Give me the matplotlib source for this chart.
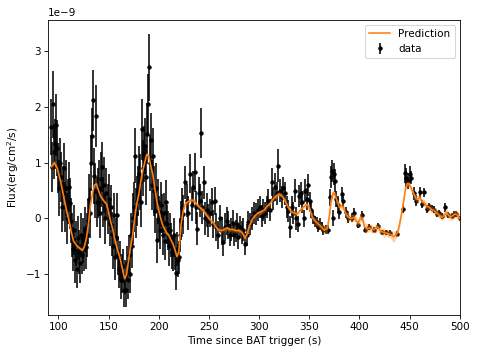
import matplotlib.pyplot as plt
import numpy as np

# light curve bins (s since BAT trigger), flux in units of 1e-9 erg/cm^2/s
time_s = [
    93, 94, 95, 96, 97, 98, 99, 100, 101, 102,
    103, 104, 105, 106, 107, 108, 109, 110, 111, 112,
    113, 114, 115, 116, 117, 118, 119, 120, 121, 122,
    123, 124, 125, 126, 127, 128, 129, 130, 131, 132,
    133, 134, 135, 136, 137, 138, 139, 140, 141, 142,
    143, 144, 145, 146, 147, 148, 149, 150, 151, 152,
    153, 154, 155, 156, 157, 158, 159, 160, 161, 162,
    163, 164, 165, 166, 167, 168, 169, 170, 171, 172,
    173, 174, 175, 176, 177, 178, 179, 180, 181, 182,
    183, 184, 185, 186, 187, 188, 189, 190, 191, 192,
    193, 194, 195, 196, 197, 198, 199, 200, 201, 202,
    203, 204, 205, 206, 207, 208, 209, 210, 211, 212,
    213, 214, 215, 216, 217, 218, 219, 220, 221, 222,
    223, 224,
    226.0, 228.0, 229.5, 231.0, 233.0, 234.5, 236.0, 237.5, 238.5, 240.0,
    241.0, 242.0, 243.5, 245.0, 246.5, 248.0, 249.5, 251.0, 252.8, 254.5,
    256.0, 257.5, 259.3, 261.0, 262.7, 264.3, 266.0, 267.6, 269.3, 271.0,
    272.5, 273.6, 275.5, 276.9, 278.3, 279.3, 281.0, 282.6, 284.3, 285.9,
    287.5, 289.3, 291.0, 292.6, 294.5, 296.9, 298.5, 300.9, 302.5, 304.0,
    305.9, 307.5, 309.2, 311.0, 312.5, 314.0, 315.8, 317.5, 319.1, 320.5,
    322.5, 324.0, 325.8, 327.5, 329.1, 331.0, 332.5, 334.0, 335.5, 337.0,
    338.5, 340.0, 341.5, 343.0, 344.5, 346.0, 347.5, 349.0, 350.7, 352.0,
    354.0, 355.5, 357.5, 359.0, 361.0, 362.5, 364.0, 366.5, 369.0, 370.6,
    372.0, 373.0, 373.9, 375.0, 376.0, 377.0, 378.5, 380.0, 382.3, 384.0,
    386.4, 389.0, 392.4, 394.7, 398.4, 402.4, 405.7, 410.0, 414.0, 418.0,
    422.4, 426.7, 430.0, 437.4, 443.0, 444.9, 446.6, 448.2, 449.9, 451.6,
    454.0, 456.6, 460.0, 462.4, 464.7, 467.4, 469.5, 472.0, 474.4, 477.0,
    479.5, 482.0, 485.4, 488.7, 492.0, 494.5, 496.4, 499.7,
]

flux = [
    1.64, 0.93, 2.05, 1.20, 1.33, 1.68, 1.27, 0.90, 0.55, 1.00,
    0.75, 0.20, 0.45, 0.90, 0.20, 0.55, 0.00, 0.30, 0.56, 0.27,
    -0.04, -0.30, -0.55, -0.20, -0.75, -0.45, -0.90, -0.35, -0.60, -0.80,
    -0.30, -0.65, -0.39, -0.55, -0.20, -0.51, -0.30, -0.05, 0.35, 0.10,
    1.00, 1.48, 2.12, 0.76, 0.50, 1.84, 0.30, 0.45, 0.55, 0.10,
    0.70, 0.92, 0.30, 0.60, 0.00, 0.45, 0.17, 0.35, -0.10, 0.20,
    -0.28, -0.50, 0.06, -0.70, -0.35, 0.06, -0.66, -0.90, -0.75, -1.10,
    -0.99, -0.85, -1.29, -1.05, -1.29, -0.80, -1.10, -0.65, -0.99, -0.30,
    -0.49, 0.00, 0.20, 1.13, 0.10, 0.32, 0.50, 0.80, 0.65, 0.30,
    1.60, 0.90, 1.16, 1.30, 0.75, 1.52, 2.05, 2.71, 1.00, 1.40,
    0.60, 1.13, 0.50, 0.14, 0.55, -0.39, 0.30, 0.00, -0.20, 0.25,
    0.09, -0.30, 0.10, -0.40, 0.29, -0.10, -0.21, -0.50, -0.20, -0.39,
    -0.60, -0.64, -0.30, -0.63, -0.98, -0.55, -0.75, -0.70, -0.30, -0.04,
    0.20, 0.08,
    0.65, 0.32, 0.10, 0.80, 0.25, 0.56, 0.83, 0.20, -0.18, 0.45,
    0.32, 1.54, 0.20, 0.65, 0.00, 0.15, -0.04, 0.10, 0.29, -0.10,
    0.32, -0.15, -0.29, 0.00, -0.23, -0.42, -0.15, -0.04, -0.12, -0.30,
    -0.20, -0.09, -0.30, -0.22, -0.10, -0.34, -0.15, -0.25, -0.20, -0.46,
    -0.30, -0.06, -0.10, 0.00, 0.10, 0.08, 0.15, 0.20, 0.05, 0.15,
    0.10, 0.20, 0.32, 0.15, 0.65, 0.35, 0.56, 0.45, 0.95, 0.50,
    0.38, 0.55, 0.45, 0.20, 0.13, -0.15, 0.20, 0.10, 0.50, 0.00,
    -0.10, 0.40, 0.45, 0.30, 0.00, 0.50, 0.35, 0.60, 0.32, 0.15,
    0.02, -0.05, -0.07, -0.15, -0.10, -0.15, -0.21, -0.20, -0.20, 0.38,
    0.75, 0.85, 0.01, 0.80, 0.68, 0.35, 0.25, 0.11, 0.44, 0.32,
    0.11, 0.00, 0.01, 0.10, -0.11, 0.06, -0.20, -0.15, -0.20, -0.14,
    -0.25, -0.25, -0.26, -0.27, 0.17, 0.81, 0.73, 0.67, 0.80, 0.73,
    0.45, 0.32, 0.47, 0.26, 0.47, 0.17, 0.22, 0.19, 0.16, 0.08,
    0.10, 0.04, 0.20, 0.06, 0.05, 0.08, 0.08, 0.00,
]

flux_err = [
    0.50, 0.45, 0.60, 0.50, 0.45, 0.55, 0.50, 0.45, 0.50, 0.45,
    0.45, 0.45, 0.50, 0.45, 0.45, 0.50, 0.45, 0.40, 0.45, 0.45,
    0.40, 0.40, 0.40, 0.45, 0.40, 0.40, 0.35, 0.40, 0.40, 0.35,
    0.40, 0.35, 0.40, 0.40, 0.40, 0.40, 0.40, 0.40, 0.45, 0.45,
    0.50, 0.50, 0.55, 0.50, 0.50, 0.55, 0.45, 0.45, 0.50, 0.45,
    0.50, 0.45, 0.45, 0.50, 0.45, 0.45, 0.45, 0.45, 0.40, 0.40,
    0.40, 0.40, 0.40, 0.40, 0.35, 0.40, 0.35, 0.35, 0.35, 0.35,
    0.35, 0.30, 0.30, 0.30, 0.30, 0.30, 0.35, 0.35, 0.35, 0.40,
    0.40, 0.45, 0.45, 0.50, 0.45, 0.45, 0.45, 0.50, 0.50, 0.45,
    0.55, 0.50, 0.50, 0.50, 0.50, 0.55, 0.55, 0.60, 0.50, 0.50,
    0.45, 0.50, 0.45, 0.40, 0.45, 0.40, 0.40, 0.40, 0.35, 0.40,
    0.35, 0.35, 0.35, 0.35, 0.40, 0.35, 0.35, 0.35, 0.30, 0.30,
    0.30, 0.30, 0.30, 0.30, 0.30, 0.30, 0.30, 0.30, 0.30, 0.35,
    0.35, 0.35,
    0.30, 0.30, 0.30, 0.35, 0.30, 0.30, 0.35, 0.30, 0.30, 0.30,
    0.30, 0.45, 0.30, 0.30, 0.30, 0.30, 0.30, 0.25, 0.25, 0.25,
    0.25, 0.25, 0.25, 0.25, 0.25, 0.25, 0.25, 0.25, 0.25, 0.20,
    0.20, 0.25, 0.20, 0.20, 0.20, 0.20, 0.20, 0.20, 0.20, 0.20,
    0.20, 0.20, 0.20, 0.20, 0.20, 0.20, 0.20, 0.20, 0.20, 0.20,
    0.20, 0.20, 0.20, 0.20, 0.25, 0.20, 0.25, 0.20, 0.30, 0.20,
    0.20, 0.20, 0.20, 0.20, 0.20, 0.20, 0.20, 0.20, 0.20, 0.20,
    0.15, 0.20, 0.20, 0.20, 0.15, 0.20, 0.20, 0.20, 0.15, 0.15,
    0.12, 0.10, 0.10, 0.10, 0.10, 0.08, 0.08, 0.08, 0.08, 0.15,
    0.20, 0.20, 0.15, 0.20, 0.20, 0.15, 0.15, 0.12, 0.12, 0.12,
    0.10, 0.08, 0.08, 0.08, 0.06, 0.08, 0.05, 0.05, 0.05, 0.05,
    0.05, 0.05, 0.05, 0.05, 0.08, 0.17, 0.17, 0.15, 0.15, 0.12,
    0.12, 0.10, 0.10, 0.08, 0.08, 0.08, 0.06, 0.06, 0.06, 0.05,
    0.05, 0.05, 0.08, 0.05, 0.05, 0.05, 0.05, 0.05,
]

# model prediction and its 1-sigma width, same units
pred_time = [
    93, 96, 99, 102, 105, 108, 111, 113, 115, 118,
    121, 124, 126, 128, 130, 132, 134, 136, 138, 140,
    142, 144, 146, 148, 150, 152, 154, 156, 158, 160,
    162, 164, 166, 168, 170, 172, 174, 176, 178, 180,
    182, 184, 186, 188, 190, 192, 194, 196, 198, 200,
    202, 204, 206, 208, 210, 212, 214, 216, 218, 220,
    222, 224, 226, 229, 232, 235, 238, 241, 244, 247,
    250, 253, 256, 259, 262, 265, 268, 271, 274, 277,
    280, 283, 286, 288, 290, 293, 296, 299, 302, 305,
    308, 311, 314, 317, 320, 323, 326, 329, 332, 335,
    338, 341, 344, 347, 350, 353, 356, 359, 362, 365,
    368, 370, 372, 374, 376, 378, 380, 382, 384, 386,
    389, 392, 395, 397, 399, 401, 403, 405, 407.5, 410,
    412, 414, 416, 418, 420, 422.4, 424.5, 426.7, 428.3, 430,
    432, 434, 436, 438, 440, 443, 446, 448, 450, 452,
    454, 456.5, 458.5, 460, 462.5, 464.5, 467, 469.5, 472, 474.5,
    477, 480, 482.5, 485, 487, 489, 491, 493, 495, 497,
    500,
]

pred_flux = [
    0.93, 1.00, 0.90, 0.68, 0.42, 0.15, -0.07, -0.25, -0.40, -0.48,
    -0.53, -0.57, -0.50, -0.35, -0.10, 0.25, 0.45, 0.60, 0.62, 0.50,
    0.40, 0.35, 0.30, 0.26, 0.12, -0.05, -0.18, -0.35, -0.50, -0.62,
    -0.75, -0.92, -1.08, -1.00, -0.75, -0.50, -0.30, 0.00, 0.25, 0.42,
    0.65, 0.85, 1.00, 1.15, 1.12, 0.95, 0.80, 0.55, 0.32, 0.15,
    0.00, -0.12, -0.20, -0.26, -0.30, -0.38, -0.45, -0.55, -0.68, -0.60,
    -0.15, 0.10, 0.25, 0.30, 0.33, 0.32, 0.25, 0.20, 0.15, 0.08,
    0.00, -0.05, -0.12, -0.20, -0.22, -0.20, -0.17, -0.20, -0.20, -0.22,
    -0.22, -0.25, -0.35, -0.28, -0.15, -0.02, 0.05, 0.10, 0.12, 0.15,
    0.22, 0.27, 0.35, 0.40, 0.44, 0.40, 0.32, 0.20, 0.12, 0.10,
    0.08, 0.15, 0.20, 0.25, 0.20, 0.02, -0.05, -0.10, -0.15, -0.21,
    -0.18, 0.05, 0.35, 0.47, 0.40, 0.30, 0.20, 0.22, 0.20, 0.10,
    0.02, 0.00, 0.02, -0.05, -0.08, 0.02, 0.00, -0.15, -0.18, -0.17,
    -0.18, -0.20, -0.18, -0.15, -0.20, -0.24, -0.25, -0.26, -0.27, -0.28,
    -0.30, -0.33, -0.30, -0.25, -0.10, 0.20, 0.55, 0.63, 0.60, 0.52,
    0.45, 0.35, 0.35, 0.38, 0.30, 0.28, 0.22, 0.20, 0.16, 0.14,
    0.10, 0.05, 0.02, 0.08, 0.10, 0.05, 0.03, 0.05, 0.08, 0.07,
    0.00,
]

pred_sig = [
    0.05, 0.04, 0.04, 0.05, 0.06, 0.06, 0.05, 0.04, 0.03, 0.03,
    0.03, 0.03, 0.03, 0.03, 0.03, 0.03, 0.03, 0.03, 0.03, 0.03,
    0.03, 0.03, 0.03, 0.03, 0.03, 0.03, 0.03, 0.03, 0.03, 0.03,
    0.03, 0.03, 0.03, 0.03, 0.03, 0.03, 0.03, 0.03, 0.03, 0.03,
    0.03, 0.03, 0.03, 0.03, 0.03, 0.03, 0.03, 0.03, 0.03, 0.03,
    0.03, 0.03, 0.03, 0.03, 0.03, 0.03, 0.03, 0.03, 0.04, 0.04,
    0.04, 0.04, 0.04, 0.04, 0.04, 0.04, 0.04, 0.04, 0.04, 0.04,
    0.04, 0.04, 0.04, 0.04, 0.04, 0.04, 0.04, 0.04, 0.04, 0.04,
    0.04, 0.04, 0.04, 0.04, 0.04, 0.04, 0.04, 0.04, 0.04, 0.04,
    0.04, 0.04, 0.04, 0.04, 0.04, 0.04, 0.04, 0.04, 0.04, 0.04,
    0.04, 0.04, 0.04, 0.04, 0.05, 0.05, 0.05, 0.06, 0.06, 0.07,
    0.07, 0.07, 0.06, 0.06, 0.06, 0.06, 0.06, 0.06, 0.06, 0.06,
    0.07, 0.06, 0.07, 0.08, 0.06, 0.08, 0.06, 0.07, 0.09, 0.05,
    0.09, 0.05, 0.09, 0.05, 0.09, 0.05, 0.09, 0.05, 0.08, 0.05,
    0.09, 0.10, 0.08, 0.05, 0.07, 0.06, 0.06, 0.05, 0.05, 0.05,
    0.05, 0.06, 0.07, 0.05, 0.06, 0.06, 0.06, 0.06, 0.06, 0.06,
    0.06, 0.06, 0.06, 0.06, 0.07, 0.06, 0.07, 0.07, 0.07, 0.07,
    0.07,
]

assert len(time_s) == len(flux) == len(flux_err)
assert len(pred_time) == len(pred_flux) == len(pred_sig)

t = np.array(time_s)
f = np.array(flux) * 1e-9
fe = np.array(flux_err) * 1e-9
pt = np.array(pred_time)
pf = np.array(pred_flux) * 1e-9
ps = np.array(pred_sig) * 1e-9

fig, ax = plt.subplots(figsize=(478 / 75, 355 / 75), dpi=75)
fig.subplots_adjust(left=0.101, right=0.962, top=0.945, bottom=0.113)

ax.errorbar(t, f, yerr=fe, fmt="o", color="k", ms=3.2, elinewidth=1.5,
            capsize=0, label="data", zorder=2)
ax.plot(pt, pf, color="C1", lw=1.5, label="Prediction", zorder=3)
ax.fill_between(pt, pf - ps, pf + ps, color="C1", alpha=0.35, lw=0, zorder=3)

ax.set_xlim(90, 500)
ax.set_ylim(-1.73e-9, 3.57e-9)
ax.set_xlabel("Time since BAT trigger (s)")
ax.set_ylabel("Flux(erg/cm$^2$/s)")
ax.legend(loc="upper right")

fig.savefig("out.png", dpi=75)
